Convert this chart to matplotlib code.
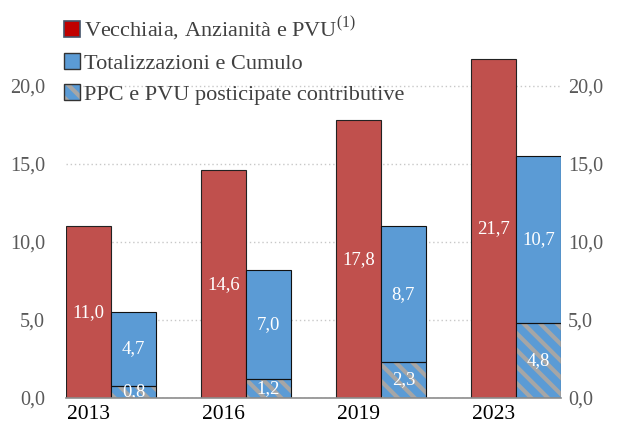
import matplotlib
matplotlib.use("Agg")
import matplotlib.pyplot as plt
from matplotlib.patches import Patch
import numpy as np

years = ["2013", "2016", "2019", "2023"]
vecchiaia = [11.0, 14.6, 17.8, 21.7]
totalizzazioni = [4.7, 7.0, 8.7, 10.7]
ppc = [0.8, 1.2, 2.3, 4.8]
yticks = [0, 5, 10, 15, 20]
legend_labels = ["Vecchiaia, Anzianità e PVU$^{\\mathrm{(1)}}$",
                 "Totalizzazioni e Cumulo",
                 "PPC e PVU posticipate contributive"]

plt.rcParams['font.family'] = ['Liberation Serif', 'DejaVu Serif']
plt.rcParams['mathtext.fontset'] = 'custom'
plt.rcParams['mathtext.rm'] = 'Liberation Serif'
plt.rcParams['hatch.linewidth'] = 3.0

RED = "#C0504D"
BLUE = "#5B9BD5"
GREY = "#A6A6A6"

fig = plt.figure(figsize=(6.17, 4.32), dpi=100)
ax = fig.add_axes([0.107, 0.0787, 0.802, 0.9028])

x = np.arange(len(years))
w = 1 / 3.0
xr = x - w / 2
xb = x + w / 2
vecchiaia_a = np.array(vecchiaia)
tot_a = np.array(totalizzazioni)
ppc_a = np.array(ppc)

ax.bar(xr, vecchiaia_a, width=w, color=RED, edgecolor="#222222", linewidth=0.8, zorder=3)
ax.bar(xb, ppc_a, width=w, color=BLUE, edgecolor=GREY, hatch="\\\\", linewidth=0, zorder=3)
ax.bar(xb, ppc_a, width=w, fill=False, edgecolor="#111111", linewidth=0.8, zorder=4)
ax.bar(xb, tot_a, bottom=ppc_a, width=w, color=BLUE, edgecolor="#111111", linewidth=0.8, zorder=3)

fmt = lambda v: f"{v:.1f}".replace(".", ",")
for i in range(len(years)):
    ax.text(xr[i], vecchiaia_a[i] / 2, fmt(vecchiaia_a[i]), ha="center", va="center",
            color="white", fontsize=13.5, zorder=5)
    ax.text(xb[i], ppc_a[i] + tot_a[i] / 2, fmt(tot_a[i]), ha="center", va="center",
            color="white", fontsize=13.5, zorder=5)
    ax.text(xb[i], ppc_a[i] / 2, fmt(ppc_a[i]), ha="center", va="center",
            color="white", fontsize=13.5, zorder=5)

ax.set_xlim(-w, len(years) - 1 + w)
ax.set_ylim(0, 25)
ax.set_yticks(yticks)
ax.set_yticklabels([fmt(v) for v in yticks])
ax.tick_params(axis="y", length=0, labelsize=14.5, labelcolor="#595959", pad=15)
ax.set_xticks(xr)
ax.set_xticklabels(years)
ax.tick_params(axis="x", length=0, labelsize=15.5, labelcolor="black", pad=5)
ax.yaxis.grid(True, linestyle=(0, (1, 2)), color="#C8C8C8", linewidth=1.0, zorder=0)
ax.set_axisbelow(True)
for s in ["top", "right", "left"]:
    ax.spines[s].set_visible(False)
ax.spines["bottom"].set_color("#8C8C8C")
ax.spines["bottom"].set_linewidth(1.2)
ax.spines["bottom"].set_zorder(6)

ax2 = ax.twinx()
ax2.set_ylim(0, 25)
ax2.set_yticks(yticks)
ax2.set_yticklabels([fmt(v) for v in yticks])
ax2.tick_params(axis="y", length=0, labelsize=14.5, labelcolor="#595959", pad=5)
for s in ax2.spines.values():
    s.set_visible(False)

hatch_handle = (Patch(facecolor=BLUE, edgecolor=GREY, hatch="\\\\", linewidth=0),
                Patch(fill=False, edgecolor="#333333", linewidth=1.0))
handles = [Patch(facecolor="#C00000", edgecolor="#44546A", linewidth=1.2),
           Patch(facecolor=BLUE, edgecolor="#333333", linewidth=1.0),
           hatch_handle]
leg = fig.legend(handles, legend_labels, loc="upper left", bbox_to_anchor=(0.104, 0.965),
                 frameon=False, fontsize=16, handlelength=0.7, handleheight=0.7,
                 handletextpad=0.2, labelspacing=0.45, borderaxespad=0, borderpad=0)
for t in leg.get_texts():
    t.set_color("#404040")

fig.savefig("out.png", dpi=100)
